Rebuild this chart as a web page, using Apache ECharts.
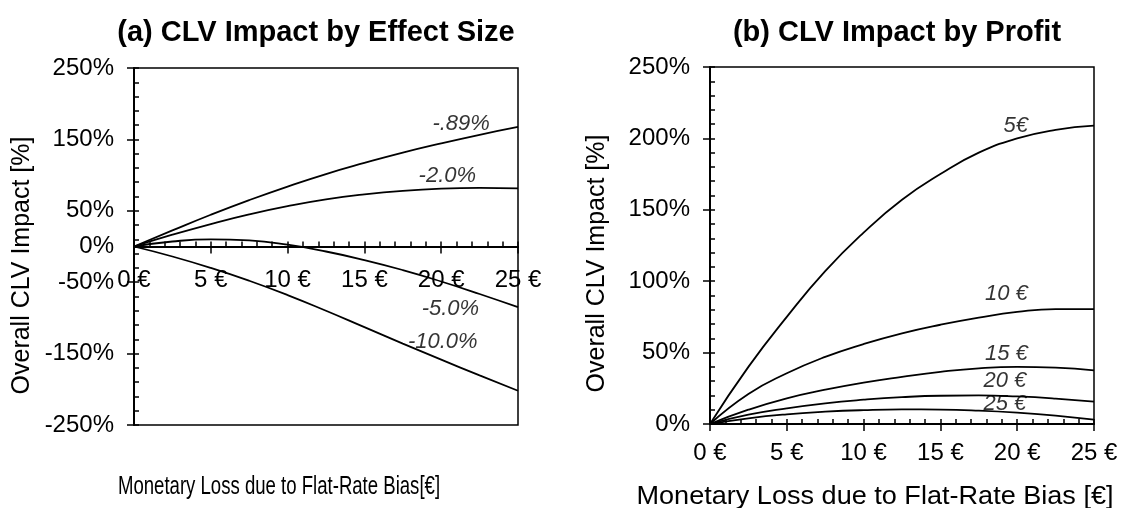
<!DOCTYPE html>
<html><head><meta charset="utf-8">
<script src="https://cdn.jsdelivr.net/npm/echarts@6/dist/echarts.min.js"></script>
<style>html,body{margin:0;padding:0;background:#fff}#c{width:1126px;height:508px}</style>
</head><body><div id="c"></div>
<script>
// ---- data ----
const xLoss = [0, 2.5, 5, 7.5, 10, 12.5, 15, 17.5, 20, 22.5, 25];
// (a) by effect size
const effM089 = [0, 22.5, 44.5, 65, 84, 101.5, 117, 131.5, 144.5, 156.5, 167.5];
const effM2   = [0, 16.5, 31.5, 45, 56.5, 66, 73, 78, 81, 82, 81.5];
const effM5   = [0, 7, 10, 8.5, 2.5, -7, -19, -33, -49, -66.5, -85];
const effM10  = [0, -14, -30, -48, -68, -90, -113, -136, -158.5, -180.5, -202];
// (b) by profit
const prof5  = [0, 40, 75, 107, 134, 157, 175, 190, 200, 206, 209];
const prof10 = [0, 21, 35.5, 47, 56, 63.5, 69.5, 74.5, 78.5, 80.5, 80.5];
const prof15 = [0, 10, 18, 24, 29, 33, 36.5, 39, 40, 39.5, 37.5];
const prof20 = [0, 6.5, 11, 14.5, 17, 18.8, 19.8, 20, 19.3, 17.8, 15.6];
const prof25 = [0, 4, 6.8, 8.6, 9.7, 10.2, 10.1, 9.4, 8, 5.9, 3];
// curve labels (text and anchor in data units)
const effLabels = ['-.89%', '-2.0%', '-5.0%', '-10.0%'];
const effLabelPos = [[21.3, 172], [20.4, 99], [20.6, -87], [20.1, -133]];
const profLabels = ['5€', '10 €', '15 €', '20 €', '25 €'];
const profLabelPos = [[19.9, 209], [19.3, 91], [19.3, 49], [19.2, 30], [19.2, 14]];
// tick labels
const effYLabels = [-250, -150, -50, 0, 50, 150, 250];

const FONT = '"Liberation Sans", Arial, Helvetica, sans-serif';
const pts = ys => xLoss.map((x, i) => [x, ys[i]]);
const lineSeries = (ys, xi, yi) => ({
  type: 'line', xAxisIndex: xi, yAxisIndex: yi, data: pts(ys), smooth: 0.5,
  showSymbol: false, symbol: 'none', lineStyle: { color: '#000', width: 1.8 }, silent: true
});
const labelSeries = (names, pos, xi, yi) => ({
  type: 'scatter', xAxisIndex: xi, yAxisIndex: yi, symbolSize: 0, silent: true,
  data: names.map((n, i) => ({ name: n, value: pos[i] })),
  label: { show: true, position: 'inside', formatter: '{b}', color: '#000',
           fontStyle: 'italic', fontSize: 22, fontFamily: FONT }
});
const tickStyle = { color: '#000', width: 1.5 };
const axisLineStyle = { color: '#000', width: 2 };
const lblStyle = { color: '#000', fontSize: 24, fontFamily: FONT };

const chart = echarts.init(document.getElementById('c'));
chart.setOption({
  animation: false,
  textStyle: { fontFamily: FONT, color: '#000' },
  title: [
    { text: '(a) CLV Impact by Effect Size', left: 316, top: 18, textAlign: 'center', padding: 0,
      textStyle: { fontSize: 29, fontWeight: 'bold', color: '#000', fontFamily: FONT } },
    { text: '(b) CLV Impact by Profit', left: 897, top: 18, textAlign: 'center', padding: 0,
      textStyle: { fontSize: 29, fontWeight: 'bold', color: '#000', fontFamily: FONT } }
  ],
  grid: [
    { left: 134, right: 608, top: 68, bottom: 83, show: true, borderColor: '#000', borderWidth: 1.5 },
    { left: 710, right: 32, top: 67, bottom: 84, show: true, borderColor: '#000', borderWidth: 1.5 },
    // upper half of panel (a): its bottom edge is the 0% line where the x axis sits
    { left: 134, right: 608, top: 68, bottom: 261.5, show: false }
  ],
  xAxis: [
    { gridIndex: 0, type: 'value', min: 0, max: 25, show: false },
    { gridIndex: 2, type: 'value', min: 0, max: 25, interval: 5, position: 'bottom',
      axisLine: { onZero: false, lineStyle: axisLineStyle },
      axisTick: { inside: false, length: 7, lineStyle: tickStyle },
      axisLabel: Object.assign({ formatter: v => v + ' €', margin: 22 }, lblStyle),
      splitLine: { show: false } },
    { gridIndex: 2, type: 'value', min: 0, max: 25, interval: 1, position: 'bottom',
      axisLine: { show: false, onZero: false },
      axisTick: { inside: true, length: 5, lineStyle: tickStyle },
      axisLabel: { show: false }, splitLine: { show: false } },
    { gridIndex: 1, type: 'value', min: 0, max: 25, interval: 5, position: 'bottom',
      axisLine: { onZero: false, lineStyle: axisLineStyle },
      axisTick: { inside: false, length: 7, lineStyle: tickStyle },
      axisLabel: Object.assign({ formatter: v => v + ' €', margin: 17 }, lblStyle),
      splitLine: { show: false } },
    { gridIndex: 1, type: 'value', min: 0, max: 25, interval: 1, position: 'bottom',
      axisLine: { show: false, onZero: false },
      axisTick: { inside: true, length: 5, lineStyle: tickStyle },
      axisLabel: { show: false }, splitLine: { show: false } }
  ],
  yAxis: [
    { gridIndex: 0, type: 'value', min: -250, max: 250, interval: 100, position: 'left',
      axisLine: { show: true, onZero: false, lineStyle: axisLineStyle },
      axisTick: { show: true, inside: false, length: 7, lineStyle: tickStyle },
      axisLabel: Object.assign({ customValues: effYLabels, formatter: v => v + '%', margin: 20 }, lblStyle),
      splitLine: { show: false },
      name: 'Overall CLV Impact [%]', nameLocation: 'middle', nameRotate: 90, nameGap: 99,
      nameTextStyle: { fontSize: 25, color: '#000', fontFamily: FONT, padding: [0, 38, 0, 0] } },
    { gridIndex: 0, type: 'value', min: -250, max: 250, interval: 20, position: 'left',
      axisLine: { show: false, onZero: false },
      axisTick: { show: true, inside: true, length: 5, lineStyle: tickStyle },
      axisLabel: { show: false }, splitLine: { show: false } },
    { gridIndex: 1, type: 'value', min: 0, max: 250, interval: 50, position: 'left',
      axisLine: { show: true, onZero: false, lineStyle: axisLineStyle },
      axisTick: { show: true, inside: false, length: 7, lineStyle: tickStyle },
      axisLabel: Object.assign({ formatter: v => v + '%', margin: 20 }, lblStyle),
      splitLine: { show: false },
      name: 'Overall CLV Impact [%]', nameLocation: 'middle', nameRotate: 90, nameGap: 100,
      nameTextStyle: { fontSize: 25, color: '#000', fontFamily: FONT, padding: [0, 36, 0, 0] } },
    { gridIndex: 1, type: 'value', min: 0, max: 250, interval: 10, position: 'left',
      axisLine: { show: false, onZero: false },
      axisTick: { show: true, inside: true, length: 5, lineStyle: tickStyle },
      axisLabel: { show: false }, splitLine: { show: false } },
    { gridIndex: 2, type: 'value', min: 0, max: 1, show: false }
  ],
  graphic: [
    { type: 'text', x: 279, y: 487, scaleX: 0.743, silent: true,
      style: { text: 'Monetary Loss due to Flat-Rate Bias[€]', fontSize: 25, fontFamily: FONT, fill: '#000',
               align: 'center', verticalAlign: 'middle', textAlign: 'center', textVerticalAlign: 'middle' } },
    { type: 'text', x: 875, y: 497, scaleX: 1.083, silent: true,
      style: { text: 'Monetary Loss due to Flat-Rate Bias [€]', fontSize: 25, fontFamily: FONT, fill: '#000',
               align: 'center', verticalAlign: 'middle', textAlign: 'center', textVerticalAlign: 'middle' } }
  ],
  series: [
    lineSeries(effM089, 0, 0), lineSeries(effM2, 0, 0), lineSeries(effM5, 0, 0), lineSeries(effM10, 0, 0),
    labelSeries(effLabels, effLabelPos, 0, 0),
    lineSeries(prof5, 3, 2), lineSeries(prof10, 3, 2), lineSeries(prof15, 3, 2),
    lineSeries(prof20, 3, 2), lineSeries(prof25, 3, 2),
    labelSeries(profLabels, profLabelPos, 3, 2)
  ]
});
</script>
</body></html>
